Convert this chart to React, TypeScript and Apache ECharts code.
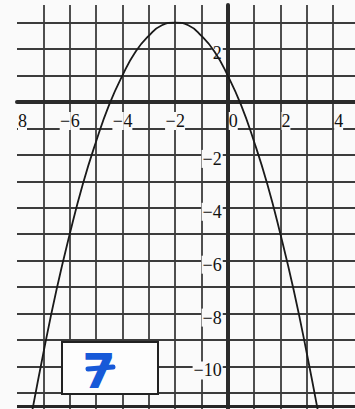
import { useEffect, useRef } from "react";
import * as echarts from "echarts";

// Parabola read from the paper (vertex at (-2, 3), through (0, 1) and (-4, 1))
const curveX = [-7.5, -7, -6.5, -6, -5.5, -5, -4.5, -4, -3.5, -3, -2.5, -2, -1.5, -1, -0.5, 0, 0.5, 1, 1.5, 2, 2.5, 3, 3.5];
const curveY = [-12.1, -9.5, -7.1, -5, -3.1, -1.5, -0.1, 1, 1.9, 2.5, 2.9, 3, 2.9, 2.5, 1.9, 1, -0.1, -1.5, -3.1, -5, -7.1, -9.5, -12.1];

const xLabelValues = [-8, -6, -4, -2, 0, 2, 4];
const xLabelTexts = ["8", "−6", "−4", "−2", "0", "2", "4"];
const yLabelValues = [2, -2, -4, -6, -8, -10];
const yLabelTexts = ["2", "−2", "−4", "−6", "−8", "−10"];
const bottomEdge = [-11.51];
const boxLabel = "7";

export default function App() {
  const ref = useRef<HTMLDivElement>(null);
  useEffect(() => {
    const chart = echarts.init(ref.current!, null, { renderer: "svg" });
    const font = "'Liberation Serif', 'Times New Roman', serif";
    const ink = "#111111";
    const paper = "#fafafa";
    const gridColor = "#3c3c3c";
    const blue = "#1759d8";
    const tok = { fontSize: 18, fontFamily: font, fill: ink, lineHeight: 18 };
    chart.setOption({
      animation: false,
      backgroundColor: paper,
      grid: {
        left: 17,
        width: 338,
        top: 5,
        height: 414.4,
        containLabel: false,
        outerBoundsMode: "none",
      },
      xAxis: {
        type: "value",
        min: -8,
        max: 4.83,
        interval: 1,
        axisLine: { onZero: true, lineStyle: { color: "#2b2b2b", width: 4 } },
        axisTick: { show: false },
        axisLabel: { show: false },
        splitLine: {
          show: true,
          showMinLine: false,
          showMaxLine: false,
          lineStyle: { color: gridColor, width: 1.8 },
        },
      },
      yAxis: {
        type: "value",
        min: -12,
        max: 3.667,
        interval: 1,
        axisLine: { onZero: true, lineStyle: { color: "#2b2b2b", width: 4 } },
        axisTick: { show: false },
        axisLabel: { show: false },
        splitLine: {
          show: true,
          showMinLine: false,
          showMaxLine: false,
          lineStyle: { color: gridColor, width: 1.8 },
        },
      },
      series: [
        {
          type: "line",
          data: curveX.map((x, i) => [x, curveY[i]]),
          smooth: true,
          showSymbol: false,
          lineStyle: { color: "#1a1a1a", width: 1.8 },
          z: 5,
          markLine: {
            silent: true,
            symbol: ["none", "none"],
            label: { show: false },
            lineStyle: { color: "#262626", width: 3, type: "solid" },
            data: bottomEdge.map((y) => ({ yAxis: y })),
          },
        },
        {
          type: "custom",
          z: 4,
          silent: true,
          data: xLabelValues.map((v, i) => [v, 0, i]),
          renderItem: (_p: any, api: any) => {
            const pt = api.coord([api.value(0), api.value(1)]);
            const t = xLabelTexts[api.value(2)];
            const text = t.startsWith("−")
              ? `{m|−}{d|${t.slice(1)}}`
              : `{b| }{d|${t}}`;
            return {
              type: "text",
              x: pt[0],
              y: pt[1] + 19,
              style: {
                text,
                ...tok,
                align: "center",
                verticalAlign: "middle",
                rich: {
                  m: { ...tok, width: 11, align: "center", backgroundColor: paper },
                  b: { ...tok, width: 11 },
                  d: { ...tok, backgroundColor: paper },
                },
              },
            };
          },
        },
        {
          type: "custom",
          z: 4,
          silent: true,
          data: yLabelValues.map((v, i) => [0, v, i]),
          renderItem: (_p: any, api: any) => {
            const pt = api.coord([api.value(0), api.value(1)]);
            const t = yLabelTexts[api.value(2)];
            return {
              type: "text",
              x: pt[0] - 5,
              y: pt[1] + 4,
              style: {
                text: t,
                ...tok,
                align: "right",
                verticalAlign: "middle",
                backgroundColor: paper,
                padding: [0, 1, 0, 1],
              },
            };
          },
        },
      ],
      graphic: [
        {
          type: "rect",
          z: 20,
          shape: { x: 62, y: 342, width: 96, height: 52 },
          style: { fill: "#fdfdfd", stroke: "#222", lineWidth: 2 },
        },
        {
          type: "text",
          z: 21,
          x: 99,
          y: 371,
          style: {
            text: boxLabel,
            fontSize: 48,
            fontWeight: "bold",
            fontFamily: "'DejaVu Sans', sans-serif",
            fill: blue,
            align: "center",
            verticalAlign: "middle",
          },
        },
        {
          type: "line",
          z: 22,
          shape: { x1: 88, y1: 369, x2: 113, y2: 367 },
          style: { stroke: blue, lineWidth: 5, lineCap: "round" },
        },
      ],
    });
    return () => chart.dispose();
  }, []);
  return (
    <div
      ref={ref}
      style={{ position: "fixed", left: 0, top: 0, width: 355, height: 409 }}
    />
  );
}
